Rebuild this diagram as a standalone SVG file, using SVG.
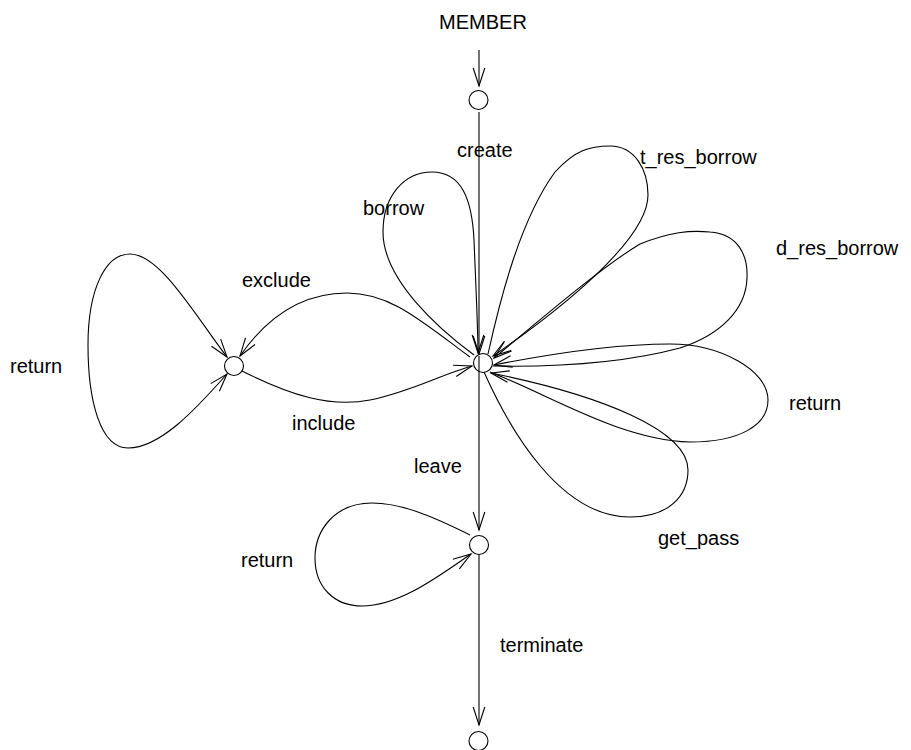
<svg xmlns="http://www.w3.org/2000/svg" width="911" height="750" viewBox="0 0 911 750">
  <style>
    .edge { fill: none; stroke: #000; stroke-width: 1.1; }
    .node { fill: #fff; stroke: #000; stroke-width: 1.1; }
    .lbl { font-family: "Liberation Sans", Arial, Helvetica, sans-serif; font-size: 20px; fill: #000; }
  </style>
  <defs>
    <marker id="arrow" viewBox="-20 -8 22 16" markerWidth="22" markerHeight="16" refX="0" refY="0" markerUnits="userSpaceOnUse" orient="auto-start-reverse" overflow="visible">
      <path d="M-18,-5.8 L0,0 L-18,5.8" fill="none" stroke="#000" stroke-width="1.1"/>
    </marker>
  </defs>
  <rect width="911" height="750" fill="#fff"/>

  <text class="lbl" x="483" y="29" text-anchor="middle">MEMBER</text>

  <g id="connectors">
    <!-- entry arrow into the initial state -->
    <path class="edge" d="M479,50 L479,86" marker-end="url(#arrow)"/>
    <!-- create -->
    <g id="edge-create">
      <path class="edge" d="M479,112 L479,354" marker-end="url(#arrow)"/>
      <text class="lbl" x="457" y="157">create</text>
    </g>
    <!-- borrow self-loop -->
    <g id="edge-borrow">
      <path class="edge" d="M474,355 C440,330 383,280 383,232 C383,195 405,172 432,172 C462,172 472,200 474,240 C476,290 478,330 478,353" marker-end="url(#arrow)"/>
      <text class="lbl" x="363" y="215">borrow</text>
    </g>
    <!-- t_res_borrow self-loop -->
    <g id="edge-t-res-borrow">
      <path class="edge" d="M488,354 C500,300 520,220 555,172 C575,150 590,146 610,146 C635,146 648,170 648,195 C648,240 560,310 493,356" marker-end="url(#arrow)"/>
      <text class="lbl" x="640" y="164">t_res_borrow</text>
    </g>
    <!-- d_res_borrow self-loop -->
    <g id="edge-d-res-borrow">
      <path class="edge" d="M493,366 C550,367 620,364 680,348 C720,335 746,310 747,278 C748,255 738,234 710,232 C690,230 670,232 640,244 C600,268 540,320 494,358" marker-end="url(#arrow)"/>
      <text class="lbl" x="776" y="255">d_res_borrow</text>
    </g>
    <!-- return self-loop on the active state -->
    <g id="edge-return-active">
      <path class="edge" d="M490,372 C550,395 620,440 690,442 C740,442 768,425 768,400 C768,370 720,344 670,344 C620,344 560,352 494,365" marker-end="url(#arrow)"/>
      <text class="lbl" x="789" y="410">return</text>
    </g>
    <!-- get_pass self-loop -->
    <g id="edge-get-pass">
      <path class="edge" d="M484,372 C510,430 560,517 630,517 C670,517 688,495 688,470 C688,430 600,395 491,373" marker-end="url(#arrow)"/>
      <text class="lbl" x="658" y="545">get_pass</text>
    </g>
    <!-- exclude -->
    <g id="edge-exclude">
      <path class="edge" d="M470,357 C420,320 390,293 347,293 C300,293 265,320 240,356" marker-end="url(#arrow)"/>
      <text class="lbl" x="242" y="287">exclude</text>
    </g>
    <!-- include -->
    <g id="edge-include">
      <path class="edge" d="M242,371 C290,395 330,408 370,400 C410,392 440,375 472,366" marker-end="url(#arrow)"/>
      <text class="lbl" x="292" y="430">include</text>
    </g>
    <!-- return self-loop on the excluded state -->
    <g id="edge-return-excluded">
      <path class="edge" d="M227,374 C195,410 160,448 128,448 C100,448 88,400 88,345 C88,290 105,254 130,254 C160,254 195,315 227,357" marker-start="url(#arrow)" marker-end="url(#arrow)"/>
      <text class="lbl" x="10" y="373">return</text>
    </g>
    <!-- leave -->
    <g id="edge-leave">
      <path class="edge" d="M479,356 L479,530" marker-end="url(#arrow)"/>
      <text class="lbl" x="414" y="473">leave</text>
    </g>
    <!-- return self-loop on the leaving state -->
    <g id="edge-return-leaving">
      <path class="edge" d="M470,535 C430,515 400,503 372,503 C335,503 315,530 315,558 C315,588 335,606 362,606 C400,606 440,575 471,554" marker-end="url(#arrow)"/>
      <text class="lbl" x="241" y="567">return</text>
    </g>
    <!-- terminate -->
    <g id="edge-terminate">
      <path class="edge" d="M479,555 L479,725" marker-end="url(#arrow)"/>
      <text class="lbl" x="500" y="652">terminate</text>
    </g>
  </g>

  <g id="node-initial"><circle class="node" cx="478.5" cy="100" r="9.5"/></g>
  <g id="node-active"><circle class="node" cx="483" cy="363" r="9.5" style="fill:none"/></g>
  <g id="node-excluded"><circle class="node" cx="234" cy="366" r="9.5"/></g>
  <g id="node-leaving"><circle class="node" cx="479" cy="545" r="9.5"/></g>
  <g id="node-final"><circle class="node" cx="478.5" cy="741" r="9.5"/></g>
</svg>
